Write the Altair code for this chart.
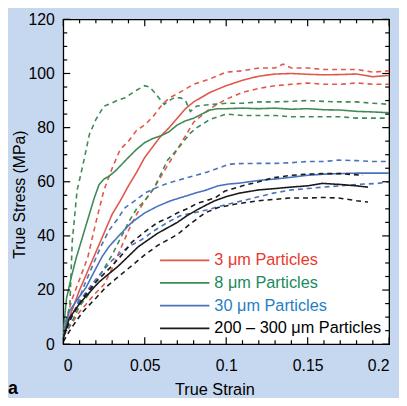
import altair as alt
import pandas as pd

# ---------------- data ----------------
SERIES = ["3 μm Particles", "8 μm Particles", "30 μm Particles", "200 – 300 μm Particles"]
LINE_COLORS = ["#e2574a", "#3f8a55", "#4a72bd", "#1a1a1a"]
TEXT_COLORS = ["#e8392d", "#1a8a5c", "#1f7ec7", "#000000"]

X_MAJOR = [0, 0.05, 0.1, 0.15, 0.2]
X_MINOR = [0.01, 0.02, 0.03, 0.04, 0.06, 0.07, 0.08, 0.09, 0.11, 0.12, 0.13, 0.14, 0.16, 0.17, 0.18, 0.19]
Y_MAJOR = [0, 20, 40, 60, 80, 100, 120]
Y_MINOR = [5, 10, 15, 25, 30, 35, 45, 50, 55, 65, 70, 75, 85, 90, 95, 105, 110, 115]

RED_SOLID = [(0, 3), (0.005, 12), (0.01, 20), (0.015, 27), (0.02, 34), (0.025, 41), (0.03, 48),
             (0.035, 53), (0.04, 58.5), (0.045, 63.5), (0.05, 69), (0.055, 73), (0.06, 77), (0.065, 80),
             (0.07, 83.5), (0.075, 87), (0.08, 89.5), (0.09, 93), (0.1, 95.5), (0.11, 97.5), (0.12, 99),
             (0.13, 99.8), (0.14, 100), (0.15, 99.7), (0.16, 99.5), (0.17, 99.6), (0.18, 99.8),
             (0.19, 98.8), (0.2, 99.3)]
RED_UP = [(0, 4), (0.005, 16), (0.01, 24), (0.015, 32), (0.02, 45), (0.025, 57), (0.03, 65),
          (0.035, 72), (0.04, 75), (0.045, 79), (0.05, 81), (0.055, 84), (0.06, 88), (0.065, 91),
          (0.07, 92.5), (0.08, 96), (0.09, 98), (0.1, 100.5), (0.11, 101), (0.12, 102), (0.13, 102),
          (0.135, 103.5), (0.14, 102), (0.15, 102), (0.16, 101.5), (0.17, 101.5), (0.18, 101.5),
          (0.19, 100.5), (0.2, 101)]
RED_LOW = [(0, 3), (0.01, 12), (0.02, 19), (0.025, 22), (0.03, 28), (0.035, 35), (0.04, 42),
           (0.045, 48), (0.05, 53), (0.055, 57), (0.06, 62), (0.065, 67), (0.07, 72), (0.075, 77),
           (0.08, 82), (0.09, 87), (0.1, 90.5), (0.11, 93), (0.12, 94.5), (0.13, 95.5), (0.14, 96),
           (0.15, 96.5), (0.16, 96), (0.17, 96), (0.18, 96.5), (0.19, 96), (0.2, 96)]

GREEN_SOLID = [(0, 5), (0.002, 17), (0.005, 25), (0.008, 32), (0.012, 40), (0.016, 48), (0.019, 54),
               (0.022, 59), (0.025, 61), (0.028, 62), (0.032, 64), (0.036, 66.5), (0.04, 69),
               (0.045, 72), (0.05, 74.5), (0.055, 76), (0.06, 77), (0.065, 78.5), (0.07, 81),
               (0.075, 82.5), (0.08, 83.5), (0.085, 85), (0.09, 86.5), (0.095, 87), (0.1, 87),
               (0.11, 87.2), (0.12, 87), (0.13, 87.2), (0.14, 86.8), (0.15, 87), (0.16, 86.6),
               (0.17, 86.5), (0.18, 86), (0.19, 85.8), (0.2, 85.5)]
GREEN_UP = [(0, 5), (0.004, 14), (0.0055, 38), (0.0085, 57), (0.0097, 60), (0.0127, 68), (0.016, 77.5),
            (0.02, 83), (0.022, 85), (0.025, 88), (0.028, 88.6), (0.033, 90), (0.038, 91),
            (0.044, 93.5), (0.05, 95.5), (0.053, 95), (0.056, 93), (0.06, 90), (0.062, 88.6),
            (0.065, 90), (0.068, 91), (0.072, 91), (0.075, 90), (0.078, 86), (0.082, 88),
            (0.09, 88.5), (0.1, 89), (0.11, 89), (0.12, 89.5), (0.13, 89.5), (0.14, 89.7),
            (0.15, 90), (0.16, 89.7), (0.17, 89.5), (0.18, 89.5), (0.19, 89), (0.2, 88.6)]
GREEN_LOW = [(0, 3), (0.005, 8), (0.01, 14), (0.015, 18), (0.02, 23), (0.025, 28), (0.03, 33),
             (0.035, 39), (0.04, 45), (0.045, 50), (0.05, 53), (0.056, 58), (0.06, 63), (0.064, 68),
             (0.07, 72), (0.074, 75), (0.078, 78), (0.082, 80), (0.09, 83), (0.1, 85), (0.11, 84.5),
             (0.12, 84.5), (0.13, 84.5), (0.14, 84), (0.15, 84), (0.16, 84), (0.17, 84),
             (0.18, 83.5), (0.19, 83.5), (0.2, 83.5)]

BLUE_SOLID = [(0, 3), (0.0036, 12), (0.008, 16), (0.014, 21), (0.02, 28), (0.024, 32.5), (0.028, 36),
              (0.034, 40), (0.042, 45), (0.05, 48.5), (0.058, 51), (0.066, 53), (0.074, 54.5),
              (0.082, 56), (0.088, 57), (0.095, 58.5), (0.102, 59.2), (0.108, 59.5), (0.12, 60.5),
              (0.13, 61), (0.139, 61.6), (0.15, 62.4), (0.16, 62.8), (0.169, 63), (0.18, 63.2),
              (0.19, 63.2), (0.2, 63.2)]
BLUE_UP = [(0, 3), (0.008, 14), (0.013, 22), (0.018, 29), (0.023, 36), (0.028, 42), (0.033, 46),
           (0.038, 50.5), (0.044, 53), (0.05, 55.8), (0.056, 57.5), (0.062, 59), (0.07, 60.5),
           (0.082, 62.5), (0.088, 63.5), (0.095, 65), (0.102, 66.5), (0.108, 66.7), (0.12, 66.8),
           (0.13, 66.8), (0.139, 67), (0.15, 67.5), (0.16, 67.5), (0.169, 68), (0.18, 67.8),
           (0.19, 67.5), (0.2, 67.5)]
BLUE_LOW = [(0, 3), (0.005, 10), (0.01, 16), (0.02, 24), (0.03, 31), (0.04, 36), (0.048, 38.6),
            (0.056, 42), (0.064, 45), (0.072, 47.5), (0.08, 48.5), (0.088, 49.6), (0.099, 51.4),
            (0.11, 53), (0.12, 54.5), (0.129, 55.8), (0.14, 57), (0.15, 57.5), (0.159, 58),
            (0.17, 58.5), (0.18, 59), (0.193, 59.4), (0.2, 60)]

BLACK_SOLID = [(0, 2), (0.0036, 9.5), (0.01, 15), (0.018, 20.4), (0.022, 23), (0.028, 26), (0.034, 29),
               (0.04, 32.5), (0.046, 36), (0.052, 38.5), (0.058, 41), (0.064, 43), (0.07, 45),
               (0.076, 47.5), (0.082, 49.6), (0.088, 51.5), (0.093, 53), (0.1, 54.5), (0.108, 55.8),
               (0.12, 57), (0.13, 57.5), (0.139, 58), (0.15, 58.5), (0.159, 59.4), (0.17, 59),
               (0.18, 58.5), (0.187, 58)]
BLACK_UP = [(0, 3), (0.005, 10), (0.012, 17), (0.02, 23), (0.03, 29), (0.036, 33), (0.042, 37.6),
            (0.05, 41.5), (0.058, 45), (0.064, 46.5), (0.07, 48.5), (0.076, 50), (0.082, 52),
            (0.093, 54), (0.099, 56.5), (0.11, 58.5), (0.12, 60), (0.129, 61.5), (0.14, 62.4),
            (0.15, 62.8), (0.159, 63), (0.17, 63), (0.184, 62.4)]
BLACK_LOW = [(0, 1), (0.005, 6), (0.012, 12), (0.02, 17), (0.026, 21), (0.032, 24), (0.042, 29),
             (0.05, 33), (0.058, 36.5), (0.064, 38.5), (0.07, 40.5), (0.078, 44.5), (0.087, 48.5),
             (0.095, 50.5), (0.108, 52), (0.12, 53), (0.139, 54), (0.15, 54), (0.16, 54.2),
             (0.169, 54), (0.18, 53), (0.187, 52.5)]

CURVES = [
    (SERIES[0], "solid", RED_SOLID), (SERIES[0], "dashed", RED_UP), (SERIES[0], "dashed", RED_LOW),
    (SERIES[1], "solid", GREEN_SOLID), (SERIES[1], "dashed", GREEN_UP), (SERIES[1], "dashed", GREEN_LOW),
    (SERIES[2], "solid", BLUE_SOLID), (SERIES[2], "dashed", BLUE_UP), (SERIES[2], "dashed", BLUE_LOW),
    (SERIES[3], "solid", BLACK_SOLID), (SERIES[3], "dashed", BLACK_UP), (SERIES[3], "dashed", BLACK_LOW),
]

rows = []
for ci, (s, kind, pts) in enumerate(CURVES):
    for j, (x, y) in enumerate(pts):
        rows.append({"series": s, "kind": kind, "curve": ci, "order": j, "strain": x, "stress": y})
df = pd.DataFrame(rows)

# ---------------- layout ----------------
W, H = 330, 329
FONT = "Liberation Sans"

xscale = alt.Scale(domain=[0, 0.2], nice=False, zero=False)
yscale = alt.Scale(domain=[0, 120], nice=False, zero=False)

x_axis = alt.Axis(values=X_MAJOR, format="~g", ticks=False, tickSize=0, domain=False, grid=False,
                  labelFontSize=16, labelPadding=14, labelColor="black", labelFont=FONT,
                  title="True Strain", titleFontSize=16.5, titleFontWeight="normal", titleFont=FONT,
                  titleColor="black", titleX=153, titleY=51, titleAlign="center",
                  titleBaseline="alphabetic")
y_axis = alt.Axis(values=Y_MAJOR, ticks=False, tickSize=0, domain=False, grid=False,
                  labelFontSize=16, labelPadding=9, labelColor="black", labelFont=FONT,
                  title="True Stress (MPa)", titleFontSize=16, titleFontWeight="normal", titleFont=FONT,
                  titleColor="black", titleX=-39, titleY=177, titleAngle=270, titleAlign="center",
                  titleBaseline="alphabetic")

lines = alt.Chart(df).mark_line(strokeWidth=1.6, clip=True).encode(
    x=alt.X("strain:Q", scale=xscale, axis=x_axis),
    y=alt.Y("stress:Q", scale=yscale, axis=y_axis),
    color=alt.Color("series:N", scale=alt.Scale(domain=SERIES, range=LINE_COLORS), legend=None),
    strokeDash=alt.StrokeDash("kind:N", scale=alt.Scale(domain=["solid", "dashed"], range=[[1, 0], [5, 4]]),
                              legend=None),
    detail="curve:N",
    order="order:Q",
)

layers = [lines]

def xticks(vals, length):
    d = pd.DataFrame({"strain": vals})
    bottom = alt.Chart(d).mark_rule(color="black", strokeWidth=1.2).encode(
        x=alt.X("strain:Q", scale=xscale), y=alt.value(H), y2=alt.value(H - length))
    top = alt.Chart(d).mark_rule(color="black", strokeWidth=1.2).encode(
        x=alt.X("strain:Q", scale=xscale), y=alt.value(0), y2=alt.value(length))
    return [bottom, top]

def yticks(vals, length):
    d = pd.DataFrame({"stress": vals})
    left = alt.Chart(d).mark_rule(color="black", strokeWidth=1.2).encode(
        y=alt.Y("stress:Q", scale=yscale), x=alt.value(0), x2=alt.value(length))
    right = alt.Chart(d).mark_rule(color="black", strokeWidth=1.2).encode(
        y=alt.Y("stress:Q", scale=yscale), x=alt.value(W), x2=alt.value(W - length))
    return [left, right]

layers += xticks(X_MAJOR, 7) + xticks(X_MINOR, 4) + yticks(Y_MAJOR, 7) + yticks(Y_MINOR, 4)

# legend
LEG_Y = [244, 267, 290, 313]
for i, s in enumerate(SERIES):
    d = pd.DataFrame({"label": [s]})
    layers.append(alt.Chart(d).mark_rule(color=LINE_COLORS[i], strokeWidth=1.8).encode(
        x=alt.value(98), x2=alt.value(148), y=alt.value(LEG_Y[i])))
    layers.append(alt.Chart(d).mark_text(color=TEXT_COLORS[i], fontSize=16.5, font=FONT,
                                         align="left", baseline="middle").encode(
        x=alt.value(153), y=alt.value(LEG_Y[i]), text="label:N"))

# panel letter
layers.append(alt.Chart(pd.DataFrame({"t": ["a"]})).mark_text(
    fontSize=18, fontWeight="bold", font=FONT, color="black", align="left", baseline="alphabetic").encode(
    x=alt.value(-56), y=alt.value(379), text="t:N"))

chart = alt.layer(*layers).properties(
    width=W, height=H,
    autosize=alt.AutoSizeParams(type="none"),
    padding={"left": 56, "top": 9, "right": 10, "bottom": 52},
).configure(background="#c6d8ef").configure_view(stroke="black", strokeWidth=1.3, fill="white")

chart.save("out.html", embed_options={"renderer": "svg", "actions": False})
